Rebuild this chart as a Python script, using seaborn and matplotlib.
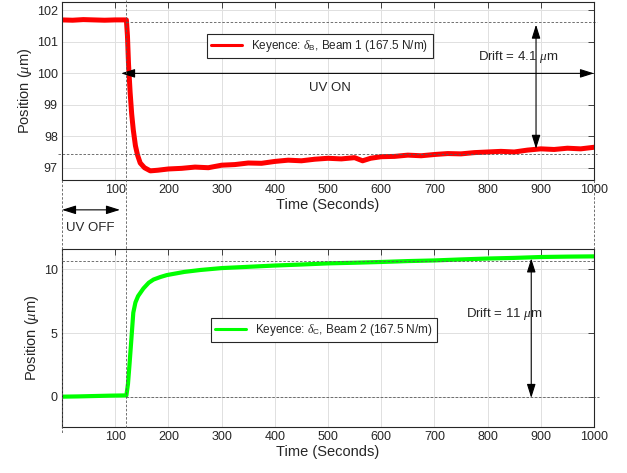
import numpy as np
import pandas as pd
import matplotlib
matplotlib.use("Agg")
import matplotlib.pyplot as plt
import matplotlib.transforms as mtransforms
from matplotlib.lines import Line2D
import seaborn as sns

# estilo parecido com MATLAB
sns.set_theme(style="whitegrid")
plt.rcParams['font.family'] = ['Liberation Sans', 'DejaVu Sans']
plt.rcParams['mathtext.fontset'] = 'custom'
plt.rcParams['mathtext.rm'] = 'Liberation Sans'
plt.rcParams['mathtext.it'] = 'Liberation Serif:italic'

# dados: Beam 1 (delta_B)
t_b = [0, 20, 40, 60, 80, 100, 121, 123, 125, 128, 131, 134, 138, 142, 147, 155, 166, 180,
       200, 225, 250, 275, 300, 325, 350, 375, 400, 425, 450, 475, 500, 525, 550, 565, 580,
       600, 625, 650, 675, 700, 725, 750, 775, 800, 825, 850, 875, 900, 925, 950, 975, 1000]
pos_b = [101.70, 101.69, 101.71, 101.70, 101.69, 101.70, 101.70, 101.2, 100.3, 99.4, 98.7, 98.2,
         97.7, 97.4, 97.15, 97.0, 96.9, 96.92,
         96.96, 96.98, 97.02, 97.0, 97.08, 97.1, 97.15, 97.14, 97.2, 97.24, 97.22, 97.27, 97.3,
         97.28, 97.32, 97.22, 97.3,
         97.35, 97.36, 97.4, 97.38, 97.42, 97.45, 97.44, 97.48, 97.5, 97.52, 97.5, 97.56, 97.6,
         97.58, 97.62, 97.6, 97.65]

# Beam 2 (delta_C)
t_c = [0, 30, 60, 90, 121, 124, 127, 130, 134, 138, 143, 153, 163, 172, 185, 197, 230, 260,
       300, 350, 400, 450, 500, 550, 600, 650, 700, 750, 800, 850, 900, 950, 1000]
pos_c = [0.0, 0.02, 0.05, 0.08, 0.1, 1.0, 2.6, 4.3, 6.6, 7.4, 7.9, 8.5, 8.95, 9.2, 9.4, 9.55,
         9.8, 9.95, 10.1, 10.2, 10.3, 10.38, 10.47, 10.52, 10.58, 10.65, 10.7, 10.78, 10.85,
         10.9, 10.97, 11.0, 11.02]

label_b = r'Keyence: $\mathit{\delta}_{\mathrm{B}}$, Beam 1 (167.5 N/m)'
label_c = r'Keyence: $\mathit{\delta}_{\mathrm{C}}$, Beam 2 (167.5 N/m)'
x_ticks = [100, 200, 300, 400, 500, 600, 700, 800, 900, 1000]

t_uv = 121
top_lo, top_hi = 97.45, 101.62
bot_lo, bot_hi = 0.0, 10.68

fig = plt.figure(figsize=(6.27, 4.73), dpi=100)
ax1 = fig.add_axes([0.0989, 0.6195, 0.8485, 0.3763])
ax2 = fig.add_axes([0.0989, 0.0973, 0.8485, 0.3763])

sns.lineplot(x=t_b, y=pos_b, ax=ax1, color=(1, 0, 0), lw=3.6, label=label_b)
sns.lineplot(x=t_c, y=pos_c, ax=ax2, color=(0, 1, 0), lw=3.0, label=label_c)

edge = (0.15, 0.15, 0.15)
for ax in (ax1, ax2):
    ax.set_xlim(0, 1000)
    ax.set_xticks(x_ticks)
    ax.set_xlabel('Time (Seconds)', fontsize=10.5, color=edge, labelpad=1)
    ax.set_ylabel(r'Position ($\mu$m)', fontsize=10.5, color=edge, labelpad=2)
    ax.tick_params(direction='in', length=4, width=0.6, colors=edge, labelsize=9,
                   top=True, right=True, pad=3)
    ax.grid(True, color=(0.88, 0.88, 0.88), lw=0.7)
    for s in ax.spines.values():
        s.set_color(edge)
        s.set_linewidth(0.8)

ax1.set_ylim(96.61, 102.27)
ax1.set_yticks([97, 98, 99, 100, 101, 102])
ax2.set_ylim(-2.38, 11.6)
ax2.set_yticks([0, 5, 10])

leg1 = ax1.legend(loc='upper left', bbox_to_anchor=(0.2726, 0.82), borderaxespad=0,
                  fancybox=False, framealpha=1, edgecolor=edge, fontsize=8.5,
                  handlelength=2.6, borderpad=0.35)
leg2 = ax2.legend(loc='upper left', bbox_to_anchor=(0.280, 0.612), borderaxespad=0,
                  fancybox=False, framealpha=1, edgecolor=edge, fontsize=8.5,
                  handlelength=2.6, borderpad=0.35)
for leg in (leg1, leg2):
    leg.get_frame().set_linewidth(0.8)
    for h in leg.get_lines():
        h.set_linewidth(2.2)

# linhas tracejadas auxiliares
dash = dict(color=(0.35, 0.35, 0.35), lw=0.6, ls=(0, (3, 2)), clip_on=False)
ax1.plot([t_uv, 1005], [top_hi, top_hi], **dash)
ax1.plot([-8, 1005], [top_lo, top_lo], **dash)
ax2.plot([0, 1000], [bot_hi, bot_hi], **dash)
ax2.plot([t_uv, 1010], [bot_lo, bot_lo], **dash)

trans = mtransforms.blended_transform_factory(ax1.transData, fig.transFigure)
fig.add_artist(Line2D([t_uv, t_uv], [1.0, 0.095], transform=trans, **dash))
fig.add_artist(Line2D([0, 0], [0.6195, 0.085], transform=trans, **dash))
fig.add_artist(Line2D([1000, 1000], [0.6195, 0.4736], transform=trans, **dash))

arrow = dict(arrowstyle='<|-|>,head_length=0.7,head_width=0.22', color='black',
             lw=0.8, shrinkA=0, shrinkB=0)
ax1.annotate('', xy=(111, 100), xytext=(1000, 100), arrowprops=arrow, annotation_clip=False)
ax1.text(504, 99.53, 'UV ON', fontsize=9.5, ha='center', va='center')
ax1.annotate('', xy=(891, 101.55), xytext=(891, 97.6), arrowprops=arrow)
ax1.text(858, 100.52, r'Drift = 4.1 $\mu$m', fontsize=9.5, ha='center', va='center')
ax1.annotate('', xy=(0, 95.66), xytext=(109, 95.66), arrowprops=arrow, annotation_clip=False)
ax1.text(53, 95.09, 'UV OFF', fontsize=9.5, ha='center', va='center', clip_on=False)

ax2.annotate('', xy=(882, 10.86), xytext=(882, -0.1), arrowprops=arrow)
ax2.text(831, 6.49, r'Drift = 11 $\mu$m', fontsize=9.5, ha='center', va='center')

fig.savefig('out.png', dpi=100)
